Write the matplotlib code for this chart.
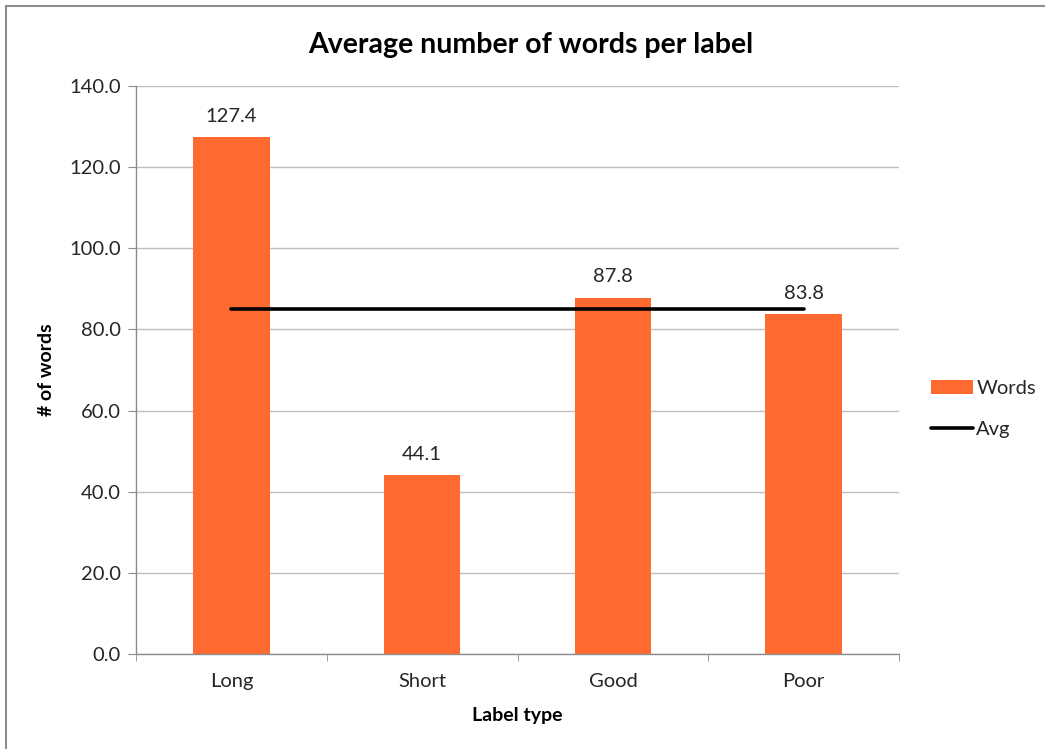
import matplotlib
matplotlib.use("Agg")
import matplotlib.pyplot as plt
from matplotlib.patches import Rectangle
import numpy as np

categories = ["Long", "Short", "Good", "Poor"]
words = [127.4, 44.1, 87.8, 83.8]
avg_value = 85.0
y_ticks = [0, 20, 40, 60, 80, 100, 120, 140]

W, H = 1045, 749
plt.rcParams['font.family'] = ['Lato', 'DejaVu Sans']

fig = plt.figure(figsize=(W / 100, H / 100), dpi=100)
fig.patch.set_facecolor("white")

# chart frame (cut off on right and bottom like the screenshot)
fig.patches.append(Rectangle((6 / W, -0.05), 1.1, 1 - 6 / H + 0.05,
                             transform=fig.transFigure, fill=False,
                             edgecolor="#8c8c8c", linewidth=1.5))

ax = fig.add_axes([136 / W, (H - 654) / H, 763 / W, 568 / H])

x = np.arange(len(categories))
bars = ax.bar(x, words, width=0.40, color="#FF6A30", label="Words", zorder=2)
avg_line, = ax.plot([x[0], x[-1]], [avg_value, avg_value], color="black", linewidth=2.6,
                    solid_capstyle="round", label="Avg", zorder=3)

for xi, v in zip(x, words):
    ax.annotate("{:.1f}".format(v), (xi, v), xytext=(0, 9), textcoords="offset points",
                ha="center", va="bottom", fontsize=14.5, color="#262626")

ax.set_xlim(-0.5, len(categories) - 0.5)
ax.set_ylim(0, 140)
ax.set_yticks(y_ticks)
ax.set_yticklabels(["{:.1f}".format(t) for t in y_ticks])
ax.set_xticks(x)
ax.set_xticklabels(categories)
ax.set_xticks(np.arange(-0.5, len(categories), 1.0), minor=True)

ax.grid(axis="y", color="#bfbfbf", linewidth=1.0, zorder=0)
ax.set_axisbelow(True)
for s in ["top", "right"]:
    ax.spines[s].set_visible(False)
for s in ["left", "bottom"]:
    ax.spines[s].set_color("#8c8c8c")
    ax.spines[s].set_linewidth(1.0)

ax.tick_params(axis="y", length=6, color="#8c8c8c", labelsize=14.5, labelcolor="#262626", pad=5)
ax.tick_params(axis="x", which="major", length=0, labelsize=14.5, labelcolor="#262626", pad=14)
ax.tick_params(axis="x", which="minor", length=5, color="#8c8c8c")

ax.set_ylabel("# of words", fontsize=14, fontweight="bold", color="black", labelpad=10)
ax.set_xlabel("Label type", fontsize=14, fontweight="bold", color="black", labelpad=12)
fig.text(531 / W, 1 - 45 / H, "Average number of words per label", ha="center", va="center",
         fontsize=20.5, fontweight="bold", color="black")

fig.legend([bars, avg_line], ["Words", "Avg"], loc="center left",
           bbox_to_anchor=(931 / W, 1 - 409 / H), frameon=False, borderpad=0,
           borderaxespad=0, fontsize=14.5, handlelength=2.1, handletextpad=0.15,
           labelspacing=1.15, labelcolor="#262626")

fig.savefig("out.png", dpi=100, facecolor="white")
